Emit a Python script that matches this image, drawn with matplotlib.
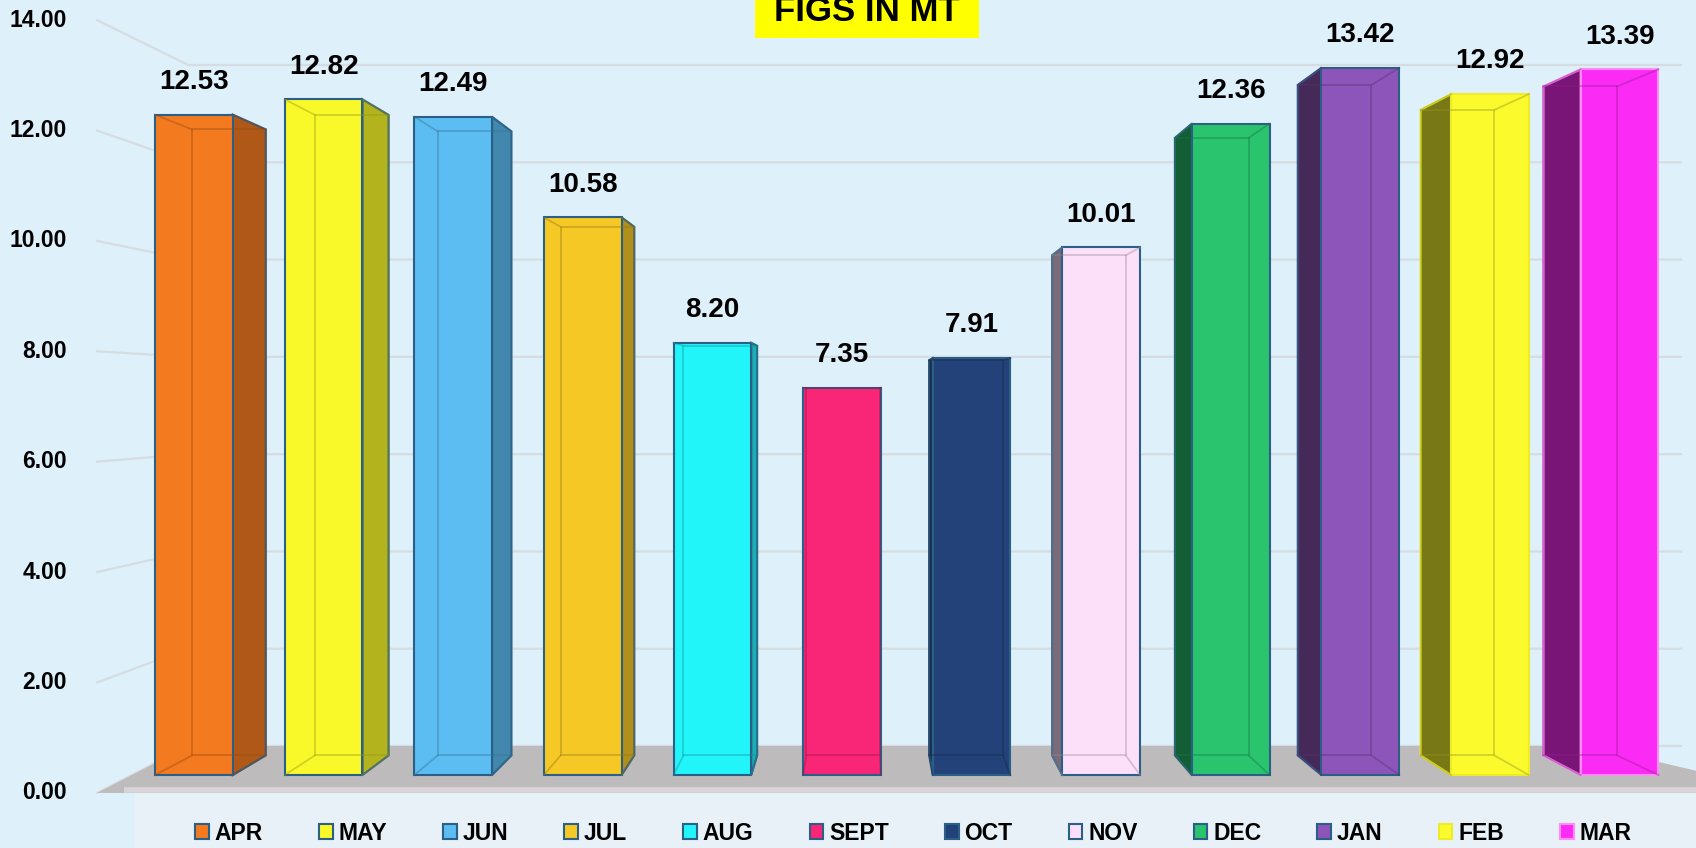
import numpy as np
import matplotlib
matplotlib.use('Agg')
import matplotlib.pyplot as plt
from matplotlib.patches import Polygon, Rectangle

plt.rcParams['font.family'] = ['Liberation Sans', 'DejaVu Sans']
plt.rcParams['font.weight'] = 'bold'

months = ['APR', 'MAY', 'JUN', 'JUL', 'AUG', 'SEPT', 'OCT', 'NOV', 'DEC', 'JAN', 'FEB', 'MAR']
values = [12.53, 12.82, 12.49, 10.58, 8.20, 7.35, 7.91, 10.01, 12.36, 13.42, 12.92, 13.39]
colors = ['#F47A20', '#F9F92A', '#5BBDF2', '#F5C825', '#22F5FA', '#F92577',
          '#24427A', '#FCE0F9', '#2AC46F', '#8D55BA', '#FAFA2D', '#FB2BF5']
edges = ['#2C5F86'] * 10 + ['#EDEB2A', '#FF8CF5']
yticks = [0, 2, 4, 6, 8, 10, 12, 14]

bg = '#DEF0FA'
fig = plt.figure(figsize=(16.96, 8.48), dpi=100, facecolor=bg)
ax = fig.add_axes([0, 0, 1, 1])
ax.set_xlim(-1.497, 11.59)
ax.set_ylim(-1.385, 14.706)
ax.axis('off')

# fake perspective: everything shrinks toward a vanishing point
VX, VY = 5.18, 7.15
F_FRONT, F_BACK, F_BOX = 1.0475, 0.923, 0.948


def proj(x, y, f):
    return VX + f * (x - VX), VY + f * (y - VY)


x = np.arange(len(months))
w = 0.6
xl_w, xr_w = -0.48, 11.24   # floor/wall extents (world units)

# legend panel under the floor
fig.patches.append(Rectangle((135 / 1696, 0), 1, 55 / 848, transform=fig.transFigure,
                             facecolor='#E7F1F7', edgecolor='none', zorder=0))

# floor
floor = [proj(xl_w, 0, F_FRONT), proj(12.0, 0, F_FRONT), proj(xr_w, 0, F_BACK), proj(xl_w, 0, F_BACK)]
ax.add_patch(Polygon(floor, closed=True, facecolor='#BDBBBB', edgecolor='none', zorder=1))
fx0, fy0 = proj(xl_w + 0.2, 0, F_FRONT)
fx1, _ = proj(12.0, 0, F_FRONT)
ax.plot([fx0, fx1], [fy0 + 0.05, fy0 + 0.05], color='#D8D4D8', lw=4, zorder=1.1,
        solid_capstyle='butt')

# gridlines on the back wall + labels on the front plane
for t in yticks:
    p0 = proj(xl_w, t, F_FRONT)
    p1 = proj(xl_w, t, F_BACK)
    p2 = proj(12.0, t, F_BACK)
    ax.plot([p0[0], p1[0], p2[0]], [p0[1], p1[1], p2[1]], color='#D6DDE2', lw=1.6, zorder=0.5)
    lx, ly = proj(xl_w - 0.22, t, F_FRONT)
    ax.text(lx, ly, f'{t:.2f}', ha='right', va='center', fontsize=16.5, fontweight='bold')


def shade(c, k):
    r, g, b = matplotlib.colors.to_rgb(c)
    return (r * k, g * k, b * k)


# side faces
for i, v in enumerate(values):
    xl, xr = i - w / 2, i + w / 2
    if i < VX:
        xs, k = xr, 0.72
    else:
        xs, k = xl, 0.48
    side = [(xs, 0), (xs, v), proj(xs, v, F_BOX), proj(xs, 0, F_BOX)]
    ax.add_patch(Polygon(side, closed=True, facecolor=shade(colors[i], k),
                         edgecolor=edges[i], lw=1.5, zorder=2))

bars = ax.bar(x, values, width=w, color=colors, edgecolor=edges, linewidth=1.5, zorder=3)

# see-through back edges of each box + value labels
for i, v in enumerate(values):
    xl, xr = i - w / 2, i + w / 2
    back = [proj(xl, 0, F_BOX), proj(xr, 0, F_BOX), proj(xr, v, F_BOX), proj(xl, v, F_BOX)]
    front = [(xl, 0), (xr, 0), (xr, v), (xl, v)]
    bx = [p[0] for p in back] + [back[0][0]]
    by = [p[1] for p in back] + [back[0][1]]
    ax.plot(bx, by, color=shade(colors[i], 0.6), lw=1.3, alpha=0.4, zorder=4)
    for a, b in zip(front, back):
        ax.plot([a[0], b[0]], [a[1], b[1]], color=shade(colors[i], 0.6), lw=1.3, alpha=0.4, zorder=4)
    ax.text(i, v + 0.62, f'{v:.2f}', ha='center', va='center', fontsize=20, fontweight='bold', zorder=5)

# title box at the top, partly cut off like the original
fig.patches.append(Rectangle((755 / 1696, 1 - 38 / 848), 224 / 1696, 0.1, transform=fig.transFigure,
                             facecolor='#FFFF00', edgecolor='none', zorder=6))
fig.text(867 / 1696, 1 - 21 / 848, 'FIGS IN MT', ha='center', va='baseline',
         fontsize=25, fontweight='bold', zorder=7)

handles = [Rectangle((0, 0), 1, 1, facecolor=c, edgecolor=e, lw=1.5) for c, e in zip(colors, edges)]
fig.legend(handles, months, loc='center left', bbox_to_anchor=(195 / 1696, 15 / 848),
           ncol=12, frameon=False, fontsize=16.5, handlelength=0.6, handleheight=0.6,
           handletextpad=0.25, columnspacing=2.45, borderpad=0, borderaxespad=0)

fig.savefig('out.png', dpi=100, facecolor=bg)
